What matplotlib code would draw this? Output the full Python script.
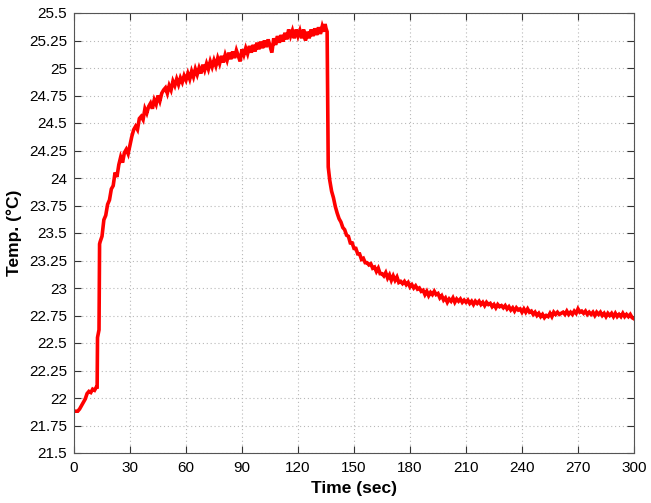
import matplotlib
matplotlib.use("Agg")
import matplotlib.pyplot as plt

# ---- data ----
time_s = [
    0, 1, 2, 3, 4, 5, 6, 7, 8, 9, 10, 11, 12, 12.4, 12.6, 13.4, 13.7, 14,
    15, 16, 17, 18, 19, 20, 21, 22, 23, 24, 25, 26, 27, 28, 29, 30,
    31, 32, 33, 34, 35, 36, 37, 38, 39, 40, 41, 42, 43, 44, 45, 46, 47, 48, 49, 50,
    51, 52, 53, 54, 55, 56, 57, 58, 59, 60, 61, 62, 63, 64, 65, 66, 67, 68, 69, 70,
    71, 72, 73, 74, 75, 76, 77, 78, 79, 80, 81, 82, 83, 84, 85, 86, 87, 88, 89, 90,
    91, 92, 93, 94, 95, 96, 97, 98, 99, 100, 101, 102, 103, 104, 105, 106, 107, 108, 109, 110,
    111, 112, 113, 114, 115, 116, 117, 118, 119, 120, 121, 122, 123, 124, 125, 126, 127, 128, 129, 130,
    131, 132, 133, 134, 134.5, 135, 135.6, 136.2, 137, 138, 139, 140,
    141, 142, 143, 144, 145, 146, 147, 148, 149, 150, 151, 152, 153, 154, 155, 156, 157, 158, 159, 160,
    161, 162, 163, 164, 165, 166, 167, 168, 169, 170, 171, 172, 173, 174, 175, 176, 177, 178, 179, 180,
    181, 182, 183, 184, 185, 186, 187, 188, 189, 190, 191, 192, 193, 194, 195, 196, 197, 198, 199, 200,
    201, 202, 203, 204, 205, 206, 207, 208, 209, 210, 211, 212, 213, 214, 215, 216, 217, 218, 219, 220,
    221, 222, 223, 224, 225, 226, 227, 228, 229, 230, 231, 232, 233, 234, 235, 236, 237, 238, 239, 240,
    241, 242, 243, 244, 245, 246, 247, 248, 249, 250, 251, 252, 253, 254, 255, 256, 257, 258, 259, 260,
    261, 262, 263, 264, 265, 266, 267, 268, 269, 270, 271, 272, 273, 274, 275, 276, 277, 278, 279, 280,
    281, 282, 283, 284, 285, 286, 287, 288, 289, 290, 291, 292, 293, 294, 295, 296, 297, 298, 299, 300,
]
temp_c = [
    21.88, 21.88, 21.88, 21.90, 21.93, 21.96, 21.99, 22.04, 22.06, 22.05, 22.08, 22.07, 22.10, 22.10, 22.55, 22.62, 23.40, 23.42,
    23.47, 23.62, 23.66, 23.76, 23.80, 23.90, 23.93, 24.05, 24.01, 24.12, 24.19, 24.14, 24.23, 24.26, 24.22, 24.30,
    24.38, 24.44, 24.47, 24.44, 24.54, 24.56, 24.53, 24.63, 24.59, 24.65, 24.68, 24.63, 24.71, 24.67, 24.75, 24.70, 24.77, 24.80, 24.82, 24.77,
    24.84, 24.80, 24.88, 24.84, 24.90, 24.85, 24.91, 24.87, 24.93, 24.89, 24.95, 24.90, 24.97, 24.92, 24.99, 24.94, 25.00, 24.95, 25.03, 24.98,
    25.04, 24.99, 25.06, 25.01, 25.07, 25.02, 25.09, 25.04, 25.11, 25.05, 25.12, 25.07, 25.14, 25.08, 25.15, 25.09, 25.16, 25.11, 25.06, 25.17,
    25.12, 25.18, 25.13, 25.20, 25.14, 25.21, 25.15, 25.23, 25.17, 25.24, 25.18, 25.25, 25.19, 25.26, 25.20, 25.14, 25.27, 25.21, 25.29, 25.23,
    25.30, 25.24, 25.32, 25.26, 25.35, 25.29, 25.34, 25.27, 25.35, 25.29, 25.34, 25.27, 25.35, 25.25, 25.33, 25.27, 25.35, 25.29, 25.36, 25.30,
    25.37, 25.31, 25.38, 25.33, 25.40, 25.36, 25.33, 24.10, 23.98, 23.88, 23.82, 23.74,
    23.68, 23.63, 23.60, 23.55, 23.53, 23.48, 23.47, 23.41, 23.41, 23.36, 23.36, 23.31, 23.31, 23.26, 23.27, 23.23, 23.23, 23.21, 23.22, 23.18,
    23.19, 23.15, 23.18, 23.13, 23.13, 23.11, 23.14, 23.09, 23.12, 23.07, 23.11, 23.07, 23.10, 23.05, 23.06, 23.04, 23.06, 23.03, 23.05, 23.01,
    23.03, 23.00, 23.02, 22.99, 23.00, 22.97, 22.98, 22.94, 22.97, 22.93, 22.96, 22.94, 22.97, 22.94, 22.95, 22.91, 22.93, 22.89, 22.91, 22.87,
    22.90, 22.88, 22.91, 22.87, 22.90, 22.88, 22.90, 22.87, 22.89, 22.87, 22.89, 22.86, 22.88, 22.85, 22.88, 22.86, 22.88, 22.85, 22.87, 22.84,
    22.87, 22.85, 22.86, 22.83, 22.85, 22.82, 22.85, 22.83, 22.84, 22.82, 22.84, 22.81, 22.83, 22.80, 22.82, 22.79, 22.82, 22.80, 22.81, 22.78,
    22.81, 22.78, 22.81, 22.78, 22.79, 22.76, 22.78, 22.75, 22.77, 22.74, 22.76, 22.73, 22.75, 22.74, 22.77, 22.74, 22.78, 22.76, 22.78, 22.76,
    22.77, 22.78, 22.76, 22.79, 22.76, 22.78, 22.76, 22.79, 22.77, 22.81, 22.78, 22.79, 22.77, 22.79, 22.76, 22.78, 22.76, 22.78, 22.75, 22.78,
    22.76, 22.78, 22.75, 22.77, 22.74, 22.77, 22.75, 22.77, 22.74, 22.77, 22.74, 22.76, 22.74, 22.77, 22.74, 22.76, 22.74, 22.76, 22.73, 22.72,
]

x_ticks = [0, 30, 60, 90, 120, 150, 180, 210, 240, 270, 300]
y_ticks = [21.5, 21.75, 22, 22.25, 22.5, 22.75, 23, 23.25, 23.5, 23.75,
           24, 24.25, 24.5, 24.75, 25, 25.25, 25.5]
y_tick_labels = ["21.5", "21.75", "22", "22.25", "22.5", "22.75", "23", "23.25",
                 "23.5", "23.75", "24", "24.25", "24.5", "24.75", "25", "25.25", "25.5"]
x_label = "Time (sec)"
y_label = "Temp. (°C)"

plt.rcParams['font.family'] = ['Liberation Sans', 'DejaVu Sans']

fig = plt.figure(figsize=(6.51, 5.03), dpi=100)
ax = fig.add_axes([74 / 651, 1 - 453 / 503, 560 / 651, 440 / 503])

ax.plot(time_s, temp_c, color='#ff0000', linewidth=2.6, solid_joinstyle='miter')

ax.set_xlim(0, 300)
ax.set_ylim(21.5, 25.5)
ax.set_xticks(x_ticks)
ax.set_xticklabels([str(v) for v in x_ticks])
ax.set_yticks(y_ticks)
ax.set_yticklabels(y_tick_labels)

ax.grid(True, linestyle=(0, (1, 2.5)), color='#b8b8b8', linewidth=0.8)
ax.tick_params(axis='both', direction='in', top=True, right=True, length=5, width=0.8,
               colors='#333333', labelcolor='black', labelsize=11)
ax.tick_params(axis='x', pad=6)
ax.tick_params(axis='y', pad=5)
for s in ax.spines.values():
    s.set_color('#555555')
    s.set_linewidth(0.8)

ax.set_xlabel(x_label, fontsize=12.5, fontweight='bold', labelpad=4)
ax.set_ylabel(y_label, fontsize=12.5, fontweight='bold', labelpad=5)

fig.savefig('out.png', dpi=100)
